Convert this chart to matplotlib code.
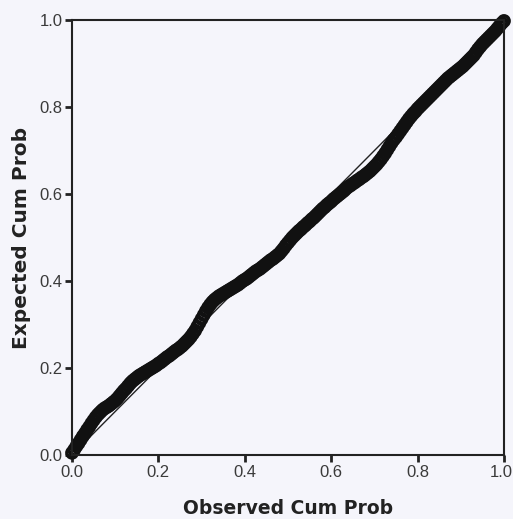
import matplotlib
matplotlib.use("Agg")
import matplotlib.pyplot as plt
import matplotlib.transforms as mtransforms

plt.rcParams['font.family'] = ['Liberation Sans', 'DejaVu Sans']

# P-P plot values
observed = [0.000, 0.005, 0.010, 0.015, 0.020, 0.025, 0.030, 0.035, 0.040, 0.045,
            0.050, 0.055, 0.060, 0.065, 0.070, 0.075, 0.080, 0.085, 0.090, 0.095,
            0.100, 0.105, 0.110, 0.115, 0.120, 0.125, 0.130, 0.135, 0.140, 0.145,
            0.150, 0.155, 0.160, 0.165, 0.170, 0.175, 0.180, 0.185, 0.190, 0.195,
            0.200, 0.205, 0.210, 0.215, 0.220, 0.225, 0.230, 0.235, 0.240, 0.245,
            0.250, 0.255, 0.260, 0.265, 0.270, 0.275, 0.280, 0.285, 0.290, 0.295,
            0.300, 0.305, 0.310, 0.315, 0.320, 0.325, 0.330, 0.335, 0.340, 0.345,
            0.350, 0.355, 0.360, 0.365, 0.370, 0.375, 0.380, 0.385, 0.390, 0.395,
            0.400, 0.405, 0.410, 0.415, 0.420, 0.425, 0.430, 0.435, 0.440, 0.445,
            0.450, 0.455, 0.460, 0.465, 0.470, 0.475, 0.480, 0.485, 0.490, 0.495,
            0.500, 0.505, 0.510, 0.515, 0.520, 0.525, 0.530, 0.535, 0.540, 0.545,
            0.550, 0.555, 0.560, 0.565, 0.570, 0.575, 0.580, 0.585, 0.590, 0.595,
            0.600, 0.605, 0.610, 0.615, 0.620, 0.625, 0.630, 0.635, 0.640, 0.645,
            0.650, 0.655, 0.660, 0.665, 0.670, 0.675, 0.680, 0.685, 0.690, 0.695,
            0.700, 0.705, 0.710, 0.715, 0.720, 0.725, 0.730, 0.735, 0.740, 0.745,
            0.750, 0.755, 0.760, 0.765, 0.770, 0.775, 0.780, 0.785, 0.790, 0.795,
            0.800, 0.805, 0.810, 0.815, 0.820, 0.825, 0.830, 0.835, 0.840, 0.845,
            0.850, 0.855, 0.860, 0.865, 0.870, 0.875, 0.880, 0.885, 0.890, 0.895,
            0.900, 0.905, 0.910, 0.915, 0.920, 0.925, 0.930, 0.935, 0.940, 0.945,
            0.950, 0.955, 0.960, 0.965, 0.970, 0.975, 0.980, 0.985, 0.990, 0.995,
            1.000]
expected = [0.005, 0.012, 0.020, 0.027, 0.035, 0.043, 0.050, 0.058, 0.065, 0.073,
            0.080, 0.087, 0.093, 0.098, 0.103, 0.107, 0.110, 0.113, 0.117, 0.121,
            0.125, 0.130, 0.136, 0.142, 0.148, 0.153, 0.159, 0.165, 0.170, 0.174,
            0.178, 0.182, 0.185, 0.188, 0.191, 0.194, 0.197, 0.200, 0.203, 0.206,
            0.210, 0.213, 0.217, 0.221, 0.225, 0.228, 0.232, 0.236, 0.240, 0.243,
            0.247, 0.251, 0.256, 0.261, 0.266, 0.272, 0.279, 0.286, 0.295, 0.304,
            0.313, 0.322, 0.331, 0.339, 0.346, 0.352, 0.357, 0.361, 0.365, 0.368,
            0.371, 0.374, 0.377, 0.380, 0.383, 0.386, 0.389, 0.392, 0.396, 0.400,
            0.403, 0.406, 0.410, 0.414, 0.418, 0.422, 0.425, 0.428, 0.432, 0.436,
            0.440, 0.444, 0.448, 0.451, 0.455, 0.459, 0.463, 0.469, 0.475, 0.482,
            0.488, 0.494, 0.500, 0.505, 0.510, 0.515, 0.519, 0.524, 0.528, 0.533,
            0.537, 0.542, 0.546, 0.551, 0.556, 0.561, 0.566, 0.570, 0.575, 0.579,
            0.583, 0.588, 0.592, 0.596, 0.600, 0.604, 0.608, 0.613, 0.617, 0.620,
            0.624, 0.627, 0.631, 0.634, 0.638, 0.641, 0.645, 0.649, 0.653, 0.658,
            0.663, 0.668, 0.674, 0.680, 0.687, 0.694, 0.702, 0.710, 0.718, 0.725,
            0.731, 0.738, 0.745, 0.752, 0.759, 0.766, 0.773, 0.779, 0.785, 0.790,
            0.796, 0.801, 0.806, 0.811, 0.816, 0.821, 0.826, 0.831, 0.836, 0.841,
            0.846, 0.851, 0.856, 0.861, 0.866, 0.870, 0.874, 0.878, 0.882, 0.886,
            0.890, 0.894, 0.899, 0.904, 0.909, 0.914, 0.919, 0.926, 0.933, 0.939,
            0.945, 0.950, 0.955, 0.960, 0.965, 0.970, 0.975, 0.981, 0.987, 0.993,
            0.998]
ticks = [0.0, 0.2, 0.4, 0.6, 0.8, 1.0]
tick_labels = ['0.0', '0.2', '0.4', '0.6', '0.8', '1.0']

bg = '#f5f5fb'
fig = plt.figure(figsize=(5.13, 5.19), dpi=100, facecolor=bg)
ax = fig.add_axes([0.1404, 0.1233, 0.842, 0.838], facecolor=bg)

ax.plot([0, 1], [0, 1], color='#222222', lw=1.0, zorder=1)
ax.scatter(observed, expected, s=55, facecolors='none', edgecolors='#111111',
           linewidths=2.5, zorder=2, clip_on=False)

ax.set_xlim(0, 1)
ax.set_ylim(0, 1)
ax.set_xticks(ticks)
ax.set_yticks(ticks)
ax.set_xticklabels(tick_labels)
ax.set_yticklabels(tick_labels)
ax.tick_params(direction='out', length=5, width=2, color='#222222',
               labelsize=12, labelcolor='#3a3a3a', pad=2)
for s in ax.spines.values():
    s.set_color('#222222')
    s.set_linewidth(1.5)

# last x tick label sits right at the figure edge, nudge it in a little
last = ax.get_xticklabels()[-1]
last.set_transform(last.get_transform() +
                   mtransforms.ScaledTranslation(-3 / 100, 0, fig.dpi_scale_trans))

ax.set_xlabel('Observed Cum Prob', fontsize=13.5, fontweight='bold', color='#222222',
              family='DejaVu Sans', va='center')
ax.set_ylabel('Expected Cum Prob', fontsize=14.5, fontweight='bold', color='#222222',
              family='DejaVu Sans', va='center')
ax.xaxis.set_label_coords(0.5, -0.124)
ax.yaxis.set_label_coords(-0.118, 0.5)

fig.savefig('out.png', dpi=100, facecolor=bg)
